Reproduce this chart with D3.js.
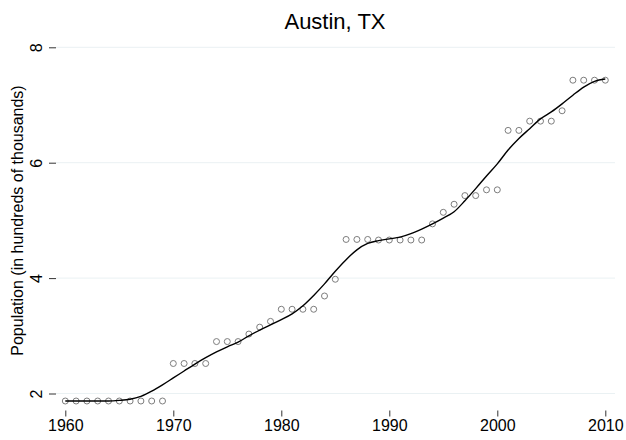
<!DOCTYPE html>
<html>
<head>
<meta charset="utf-8">
<script src="https://cdn.jsdelivr.net/npm/d3@7"></script>
<style>
  html, body { margin: 0; padding: 0; background: #fff; }
  svg { display: block; font-family: "Liberation Sans", Arial, Helvetica, sans-serif; }
</style>
</head>
<body>
<svg id="chart" width="626" height="440"></svg>
<script>
// ---- data ----
const title = "Austin, TX";
const yTitle = "Population (in hundreds of thousands)";
const years = d3.range(1960, 2011);
const population = [
  1.87, 1.87, 1.87, 1.87, 1.87, 1.87, 1.87, 1.87, 1.87, 1.87, // 1960-69
  2.52, 2.52, 2.52, 2.52, 2.90, 2.90, 2.90, 3.03, 3.15, 3.25, // 1970-79
  3.46, 3.46, 3.46, 3.46, 3.69, 3.98, 4.67, 4.67, 4.67, 4.66, // 1980-89
  4.66, 4.66, 4.66, 4.66, 4.94, 5.14, 5.28, 5.43, 5.43, 5.53, // 1990-99
  5.53, 6.56, 6.56, 6.72, 6.72, 6.72, 6.90, 7.43, 7.43, 7.43, // 2000-09
  7.43                                                        // 2010
];
const smooth = [
  1.87, 1.87, 1.87, 1.87, 1.87, 1.88, 1.90, 1.95, 2.04, 2.15,
  2.27, 2.39, 2.51, 2.62, 2.72, 2.81, 2.89, 3.00, 3.10, 3.19,
  3.28, 3.38, 3.52, 3.70, 3.90, 4.12, 4.32, 4.49, 4.60, 4.65,
  4.68, 4.71, 4.77, 4.85, 4.94, 5.04, 5.15, 5.34, 5.55, 5.77,
  5.98, 6.22, 6.42, 6.59, 6.76, 6.88, 7.02, 7.17, 7.31, 7.41,
  7.45
];
const xTicks = [1960, 1970, 1980, 1990, 2000, 2010];
const yTicks = [2, 4, 6, 8];

// ---- layout ----
const svg = d3.select("#chart");
const plotLeft = 56, plotRight = 615;
const x = d3.scaleLinear().domain([1960, 2010]).range([65.3, 605.3]);
const y = d3.scaleLinear().domain([2, 8]).range([393.5, 47.3]);

// gridlines
svg.append("g").selectAll("line").data(yTicks).join("line")
  .attr("x1", plotLeft).attr("x2", plotRight)
  .attr("y1", d => y(d)).attr("y2", d => y(d))
  .attr("stroke", "#eaf1f3").attr("stroke-width", 1);

// y axis
const yAxis = svg.append("g").attr("transform", `translate(${plotLeft},0)`)
  .call(d3.axisLeft(y).tickValues(yTicks).tickSize(7).tickPadding(4).tickFormat(d3.format("d")));
yAxis.select(".domain").remove();
yAxis.selectAll(".tick line").attr("stroke", "#333").attr("stroke-width", 1);
yAxis.selectAll(".tick text")
  .attr("font-size", 16).attr("fill", "#000")
  .attr("text-anchor", "middle")
  .attr("transform", "rotate(-90)")
  .attr("x", 0).attr("y", -14).attr("dy", "0");

// x axis
const xAxis = svg.append("g").attr("transform", `translate(0,410.5)`)
  .call(d3.axisBottom(x).tickValues(xTicks).tickSize(6).tickPadding(3).tickFormat(d3.format("d")));
xAxis.select(".domain").remove();
xAxis.selectAll(".tick line").attr("stroke", "#333").attr("stroke-width", 1);
xAxis.selectAll(".tick text").attr("font-size", 16).attr("fill", "#000");

// points
svg.append("g").selectAll("circle").data(years).join("circle")
  .attr("cx", (d) => x(d))
  .attr("cy", (d, i) => y(population[i]))
  .attr("r", 3)
  .attr("fill", "none")
  .attr("stroke", "#7d7d7d")
  .attr("stroke-width", 1);

// smooth line
const line = d3.line()
  .x((d) => x(d))
  .y((d, i) => y(smooth[i]))
  .curve(d3.curveMonotoneX);
svg.append("path").datum(years)
  .attr("d", line)
  .attr("fill", "none")
  .attr("stroke", "#000")
  .attr("stroke-width", 1.4);

// title
svg.append("text")
  .attr("x", 335).attr("y", 29)
  .attr("text-anchor", "middle")
  .attr("font-size", 22).attr("fill", "#000")
  .text(title);

// y title
svg.append("text")
  .attr("transform", `translate(23,${(47 + 394) / 2}) rotate(-90)`)
  .attr("text-anchor", "middle")
  .attr("font-size", 16).attr("fill", "#000")
  .text(yTitle);
</script>
</body>
</html>
